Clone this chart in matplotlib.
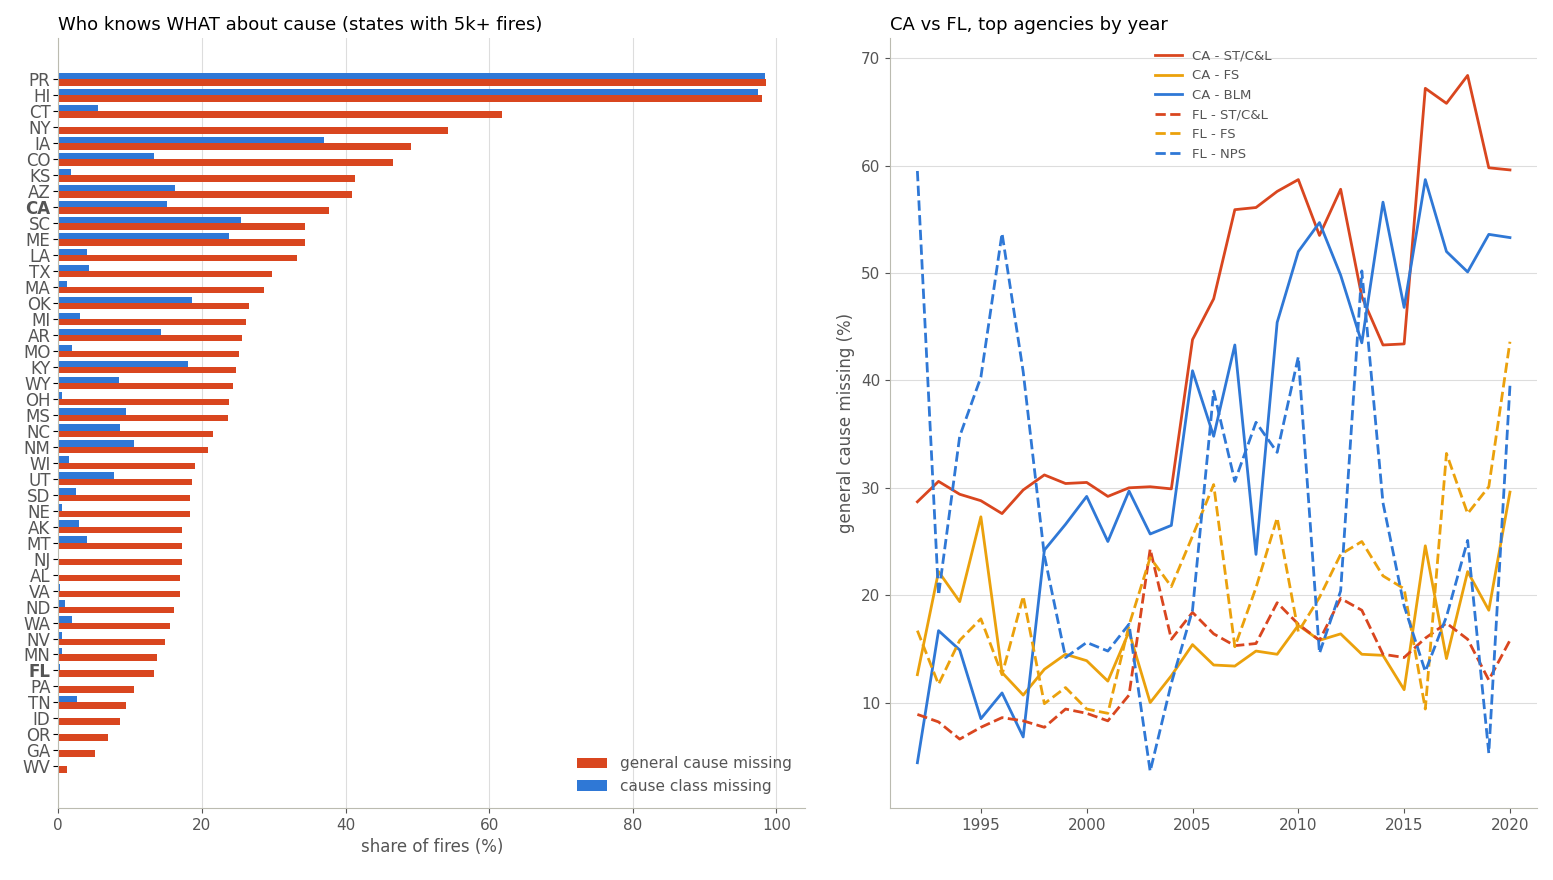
import numpy as np
import matplotlib
matplotlib.use('Agg')
import matplotlib.pyplot as plt

# left panel data
states = ['PR','HI','CT','NY','IA','CO','KS','AZ','CA','SC','ME','LA','TX','MA','OK','MI','AR','MO','KY','WY',
          'OH','MS','NC','NM','WI','UT','SD','NE','AK','MT','NJ','AL','VA','ND','WA','NV','MN','FL','PA','TN',
          'ID','OR','GA','WV']
general_missing = [98.6,98.0,61.8,54.3,49.1,46.6,41.3,40.9,37.7,34.4,34.4,33.3,29.7,28.7,26.5,26.2,25.6,25.2,24.7,24.4,
                   23.8,23.6,21.6,20.9,19.1,18.6,18.3,18.3,17.3,17.3,17.2,17.0,16.9,16.1,15.5,14.8,13.8,13.4,10.6,9.4,
                   8.6,6.9,5.1,1.2]
class_missing = [98.4,97.4,5.6,0.0,37.0,13.3,1.8,16.2,15.1,25.4,23.8,4.0,4.3,1.2,18.6,3.0,14.3,1.9,18.0,8.4,
                 0.5,9.4,8.6,10.5,1.5,7.7,2.5,0.5,2.9,4.0,0.1,0.1,0.2,0.9,1.9,0.5,0.5,0.2,0.0,2.6,
                 0.1,0.1,0.0,0.0]

# right panel data
years = list(range(1992, 2021))
ca_stcl = [28.7,30.6,29.4,28.8,27.6,29.8,31.2,30.4,30.5,29.2,30.0,30.1,29.9,43.8,47.6,55.9,56.1,57.6,58.7,53.5,
           57.8,47.8,43.3,43.4,67.2,65.8,68.4,59.8,59.6]
ca_fs = [12.6,22.2,19.4,27.3,12.8,10.7,13.1,14.5,13.9,12.0,16.6,10.0,12.5,15.4,13.5,13.4,14.8,14.5,17.2,15.8,
         16.4,14.5,14.4,11.2,24.6,14.1,22.2,18.6,29.6]
ca_blm = [4.4,16.7,14.9,8.5,10.9,6.8,24.2,26.6,29.2,25.0,29.7,25.7,26.5,40.9,34.8,43.3,23.8,45.4,52.0,54.7,
          49.8,43.5,56.6,46.8,58.7,52.0,50.1,53.6,53.3]
fl_stcl = [8.9,8.2,6.6,7.7,8.6,8.3,7.7,9.4,9.0,8.3,10.7,24.3,15.9,18.4,16.4,15.3,15.5,19.3,17.3,15.8,
           19.7,18.6,14.5,14.2,16.0,17.4,15.9,12.1,15.8]
fl_fs = [16.7,11.7,15.8,17.8,12.6,19.9,9.9,11.4,9.4,9.0,17.2,23.5,20.8,25.5,30.3,15.2,20.7,27.2,16.6,19.8,
         23.8,25.0,21.8,20.6,9.4,33.2,27.6,30.1,43.6]
fl_nps = [59.5,20.0,34.8,40.3,53.7,40.8,23.7,14.2,15.6,14.8,17.3,3.6,11.8,18.6,39.0,30.6,36.1,33.3,42.2,14.6,
          20.4,50.2,28.6,19.0,12.9,18.0,25.1,5.3,39.5]

RED = '#d9461f'
ORANGE = '#eba10c'
BLUE = '#2f78d6'
TXT = '#555555'
GRID = '#dddddd'
SPINE = '#bbbbb0'

fig = plt.figure(figsize=(15.53, 8.8), dpi=100)

ax = fig.add_axes([0.0375, 0.082, 0.481, 0.875])
y = np.arange(len(states))[::-1]
h = 0.4
ax.barh(y - h/2, general_missing, height=h, color=RED, label='general cause missing')
ax.barh(y + h/2, class_missing, height=h, color=BLUE, label='cause class missing')
ax.set_yticks(y)
ax.set_yticklabels(states, fontsize=12, color=TXT)
for lab in ax.get_yticklabels():
    if lab.get_text() in ('CA', 'FL'):
        lab.set_fontweight('bold')
ax.set_ylim(-2.6, len(states) - 1 + 2.6)
ax.set_xlim(0, 104)
ax.set_xticks([0, 20, 40, 60, 80, 100])
ax.tick_params(axis='x', labelsize=11, colors=TXT)
ax.tick_params(axis='y', pad=2)
ax.grid(axis='x', color=GRID)
ax.set_axisbelow(True)
ax.set_xlabel('share of fires (%)', fontsize=12, color=TXT)
ax.set_title('Who knows WHAT about cause (states with 5k+ fires)', loc='left', fontsize=13)
for s in ['top', 'right']:
    ax.spines[s].set_visible(False)
for s in ['left', 'bottom']:
    ax.spines[s].set_color(SPINE)
ax.legend(loc='lower right', frameon=False, fontsize=11, labelcolor=TXT)

ax2 = fig.add_axes([0.573, 0.082, 0.417, 0.875])
ax2.plot(years, ca_stcl, color=RED, lw=2, label='CA - ST/C&L')
ax2.plot(years, ca_fs, color=ORANGE, lw=2, label='CA - FS')
ax2.plot(years, ca_blm, color=BLUE, lw=2, label='CA - BLM')
ax2.plot(years, fl_stcl, color=RED, lw=2, ls='--', label='FL - ST/C&L')
ax2.plot(years, fl_fs, color=ORANGE, lw=2, ls='--', label='FL - FS')
ax2.plot(years, fl_nps, color=BLUE, lw=2, ls='--', label='FL - NPS')
ax2.set_xlim(1990.7, 2021.3)
ax2.set_ylim(0.2, 71.9)
ax2.set_xticks([1995, 2000, 2005, 2010, 2015, 2020])
ax2.set_yticks([10, 20, 30, 40, 50, 60, 70])
ax2.tick_params(labelsize=11, colors=TXT)
ax2.grid(axis='y', color=GRID)
ax2.set_axisbelow(True)
ax2.set_ylabel('general cause missing (%)', fontsize=12, color=TXT)
ax2.set_title('CA vs FL, top agencies by year', loc='left', fontsize=13)
for s in ['top', 'right']:
    ax2.spines[s].set_visible(False)
for s in ['left', 'bottom']:
    ax2.spines[s].set_color(SPINE)
ax2.legend(loc='upper center', frameon=False, fontsize=9.5, labelcolor=TXT)

fig.savefig('out.png', dpi=100)
